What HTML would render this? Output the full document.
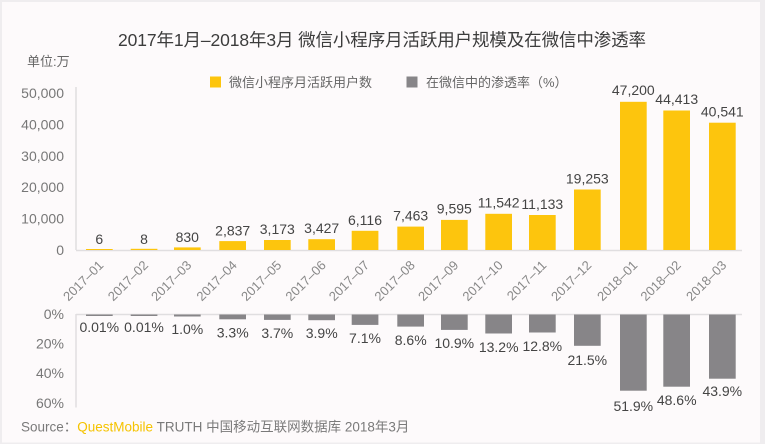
<!DOCTYPE html>
<html><head><meta charset="utf-8">
<style>
html,body{margin:0;padding:0;background:#fdfafb;}
svg{display:block;}
text{font-family:"Liberation Sans","Noto Sans CJK SC",sans-serif;}
</style></head>
<body>
<svg width="765" height="444" viewBox="0 0 765 444" xmlns="http://www.w3.org/2000/svg">
<rect x="0" y="0" width="765" height="444" fill="#efedef"/>
<rect x="2" y="2" width="758" height="440.5" fill="#fdfafb"/>

<!-- title -->
<text x="382" y="46" text-anchor="middle" font-size="17.5" fill="#3c3c3c" textLength="528">2017年1月–2018年3月 微信小程序月活跃用户规模及在微信中渗透率</text>
<text x="27" y="66" font-size="13" fill="#666">单位:万</text>

<!-- legend -->
<rect x="210" y="76.5" width="11" height="11" fill="#fdc50d"/>
<text x="229" y="87" font-size="13" fill="#666">微信小程序月活跃用户数</text>
<rect x="406.5" y="76.5" width="11" height="11" fill="#878588"/>
<text x="426" y="87" font-size="13" fill="#666">在微信中的渗透率（%）</text>

<!-- upper axis -->
<g font-size="14" fill="#777" text-anchor="end">
<text x="64" y="98">50,000</text>
<text x="64" y="129.5">40,000</text>
<text x="64" y="161">30,000</text>
<text x="64" y="192">20,000</text>
<text x="64" y="223.5">10,000</text>
<text x="64" y="255">0</text>
</g>
<line x1="76" y1="87" x2="76" y2="250" stroke="#e0dee0" stroke-width="1.5"/>
<line x1="76" y1="250.5" x2="742" y2="250.5" stroke="#e0dee0" stroke-width="1.5"/>

<!-- upper bars -->
<g fill="#fdc50d">
<rect x="86" y="249" width="26.7" height="1"/>
<rect x="130.7" y="248.8" width="26.7" height="1.2"/>
<rect x="174" y="247.4" width="26.7" height="2.6"/>
<rect x="219.3" y="241.1" width="26.7" height="8.9"/>
<rect x="264" y="240" width="26.7" height="10"/>
<rect x="308.3" y="239.2" width="26.7" height="10.8"/>
<rect x="351.7" y="230.8" width="26.7" height="19.2"/>
<rect x="397.3" y="226.6" width="26.7" height="23.4"/>
<rect x="441" y="219.9" width="26.7" height="30.1"/>
<rect x="485.3" y="213.8" width="26.7" height="36.2"/>
<rect x="529" y="215" width="26.7" height="35"/>
<rect x="574" y="189.5" width="26.7" height="60.5"/>
<rect x="620" y="101.8" width="26.7" height="148.2"/>
<rect x="663.3" y="110.5" width="26.7" height="139.5"/>
<rect x="709" y="122.7" width="26.7" height="127.3"/>
</g>
<g font-size="14" fill="#444" text-anchor="middle">
<text x="99.3" y="244">6</text>
<text x="144" y="244">8</text>
<text x="187.3" y="242">830</text>
<text x="232.7" y="235.5">2,837</text>
<text x="277.3" y="234">3,173</text>
<text x="321.7" y="233">3,427</text>
<text x="365" y="225">6,116</text>
<text x="410.7" y="220.5">7,463</text>
<text x="454.3" y="213.5">9,595</text>
<text x="498.7" y="207.5">11,542</text>
<text x="542.3" y="209">11,133</text>
<text x="587.3" y="183.5">19,253</text>
<text x="633.3" y="95">47,200</text>
<text x="676.7" y="104">44,413</text>
<text x="722.3" y="116.5">40,541</text>
</g>

<!-- x labels -->
<g font-size="13" fill="#888" text-anchor="end">
<text transform="translate(104.3,266) rotate(-45)">2017–01</text>
<text transform="translate(149,266) rotate(-45)">2017–02</text>
<text transform="translate(192.3,266) rotate(-45)">2017–03</text>
<text transform="translate(237.7,266) rotate(-45)">2017–04</text>
<text transform="translate(282.3,266) rotate(-45)">2017–05</text>
<text transform="translate(326.7,266) rotate(-45)">2017–06</text>
<text transform="translate(370,266) rotate(-45)">2017–07</text>
<text transform="translate(415.7,266) rotate(-45)">2017–08</text>
<text transform="translate(459.3,266) rotate(-45)">2017–09</text>
<text transform="translate(503.7,266) rotate(-45)">2017–10</text>
<text transform="translate(547.3,266) rotate(-45)">2017–11</text>
<text transform="translate(592.3,266) rotate(-45)">2017–12</text>
<text transform="translate(638.3,266) rotate(-45)">2018–01</text>
<text transform="translate(681.7,266) rotate(-45)">2018–02</text>
<text transform="translate(727.3,266) rotate(-45)">2018–03</text>
</g>

<!-- lower axis -->
<g font-size="14" fill="#777" text-anchor="end">
<text x="64" y="319">0%</text>
<text x="64" y="348.5">20%</text>
<text x="64" y="378">40%</text>
<text x="64" y="408">60%</text>
</g>
<line x1="76" y1="314" x2="76" y2="407.5" stroke="#e0dee0" stroke-width="1.5"/>
<line x1="76" y1="314.5" x2="742" y2="314.5" stroke="#e0dee0" stroke-width="1.5"/>

<g fill="#878588">
<rect x="86" y="314.5" width="26.7" height="1.5"/>
<rect x="130.7" y="314.5" width="26.7" height="1.5"/>
<rect x="174" y="314.5" width="26.7" height="2"/>
<rect x="219.3" y="314.5" width="26.7" height="4.8"/>
<rect x="264" y="314.5" width="26.7" height="5.4"/>
<rect x="308.3" y="314.5" width="26.7" height="5.7"/>
<rect x="351.7" y="314.5" width="26.7" height="10.4"/>
<rect x="397.3" y="314.5" width="26.7" height="12.1"/>
<rect x="441" y="314.5" width="26.7" height="15.4"/>
<rect x="485.3" y="314.5" width="26.7" height="19"/>
<rect x="529" y="314.5" width="26.7" height="18"/>
<rect x="574" y="314.5" width="26.7" height="31.3"/>
<rect x="620" y="314.5" width="26.7" height="76.2"/>
<rect x="663.3" y="314.5" width="26.7" height="72.2"/>
<rect x="709" y="314.5" width="26.7" height="64.2"/>
</g>
<g font-size="14" fill="#444" text-anchor="middle">
<text x="99.3" y="332">0.01%</text>
<text x="144" y="332">0.01%</text>
<text x="187.3" y="334">1.0%</text>
<text x="232.7" y="337.5">3.3%</text>
<text x="277.3" y="338">3.7%</text>
<text x="321.7" y="338">3.9%</text>
<text x="365" y="343">7.1%</text>
<text x="410.7" y="345">8.6%</text>
<text x="454.3" y="348">10.9%</text>
<text x="498.7" y="352">13.2%</text>
<text x="542.3" y="351">12.8%</text>
<text x="587.3" y="365">21.5%</text>
<text x="633.3" y="411">51.9%</text>
<text x="676.7" y="405">48.6%</text>
<text x="722.3" y="396">43.9%</text>
</g>

<!-- source -->
<text x="21" y="431.5" font-size="13.5" fill="#7a7a7a">Source：<tspan fill="#f5c300">QuestMobile</tspan> TRUTH 中国移动互联网数据库 2018年3月</text>
</svg>
</body></html>
